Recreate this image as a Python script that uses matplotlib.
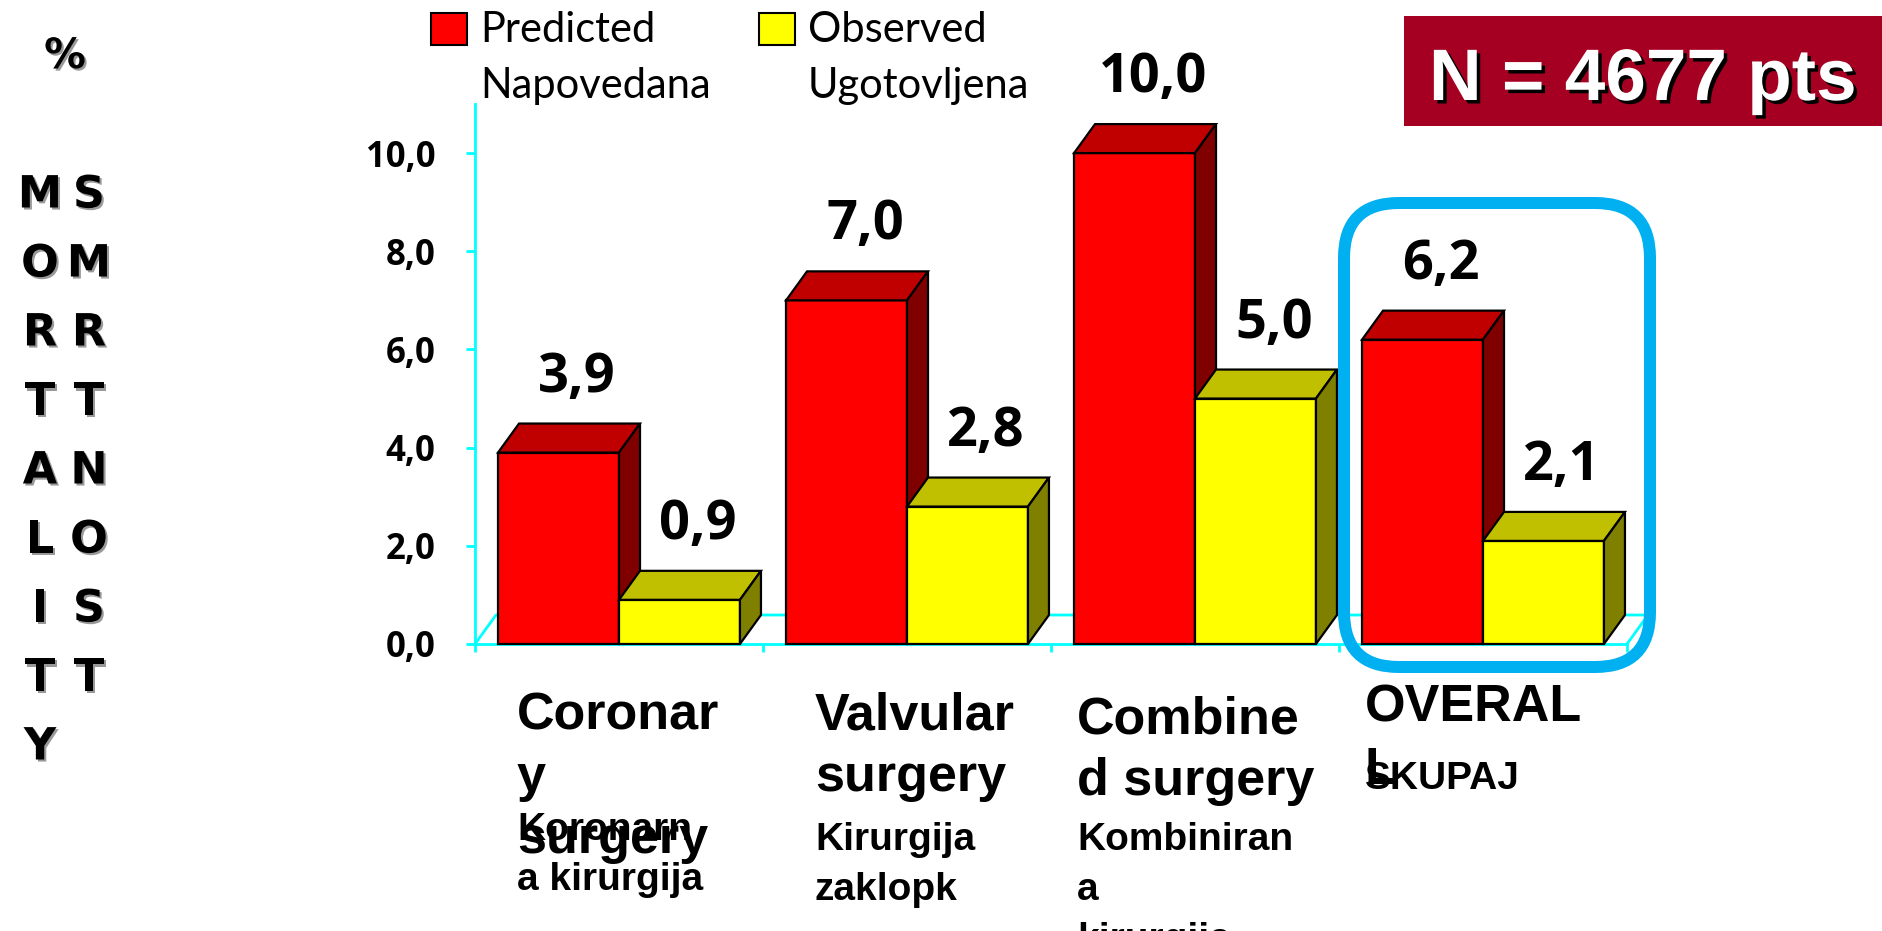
import matplotlib
matplotlib.use('Agg')
import matplotlib.pyplot as plt
import numpy as np
from matplotlib.patches import Polygon, Rectangle, FancyBboxPatch
import matplotlib.patheffects as pe

W, H, DPI = 1883, 931, 100

# data
categories = ['Coronary surgery', 'Valvular surgery', 'Combined surgery', 'OVERALL']
predicted = [3.9, 7.0, 10.0, 6.2]
observed = [0.9, 2.8, 5.0, 2.1]
yticks = [0, 2, 4, 6, 8, 10]
legend_lines = [('Predicted', 'Napovedana'), ('Observed', 'Ugotovljena')]

# category labels as they are broken in the original text boxes
cat_main = [['Coronar', 'y', 'surgery'], ['Valvular', 'surgery'],
            ['Combine', 'd surgery'], ['OVERAL', 'L']]
cat_sub = [['Koronarn', 'a kirurgija'], ['Kirurgija', 'zaklopk'],
           ['Kombiniran', 'a', 'kirurgija'], ['SKUPAJ']]
ylabel_en = 'MORTALITY'
ylabel_sl = 'SMRTNOST'

RED = ('#FF0000', '#C00000', '#800000')
YEL = ('#FFFF00', '#C0C000', '#808000')
CYAN = '#00FFFF'
NUMFONT = 'Open Sans'

def pt(px):
    return px * 72.0 / DPI

fig = plt.figure(figsize=(W / DPI, H / DPI), dpi=DPI)

# main axes: y=0 at pixel 644, 49.1 px per unit, 288 px per category
x0, x1, y0, ytop = 475, 1627, 644, 104
ax = fig.add_axes([x0 / W, 1 - y0 / H, (x1 - x0) / W, (y0 - ytop) / H])
ax.set_xlim(0, 4)
ax.set_ylim(0, 11)
ax.patch.set_alpha(0)

DX = 21 / 288.0
DY = 29 / 49.1
BW = 0.42
offsets = [0.08, 0.5]

# floor outline
ax.plot([0, DX, 4 + DX, 4], [0, DY, DY, 0], color=CYAN, lw=2, clip_on=False, zorder=1)

idx = np.arange(len(categories))
for k, (vals, cols) in enumerate([(predicted, RED), (observed, YEL)]):
    z = 3 + k
    ax.bar(idx + offsets[k], vals, width=BW, align='edge', color=cols[0],
           edgecolor='black', linewidth=1.6, zorder=z, clip_on=False)
    for i, v in enumerate(vals):
        xl = i + offsets[k]
        xr = xl + BW
        top = Polygon([(xl, v), (xr, v), (xr + DX, v + DY), (xl + DX, v + DY)],
                      closed=True, facecolor=cols[1], edgecolor='black', lw=1.6,
                      zorder=z, clip_on=False)
        side = Polygon([(xr, 0), (xr + DX, DY), (xr + DX, v + DY), (xr, v)],
                       closed=True, facecolor=cols[2], edgecolor='black', lw=1.6,
                       zorder=z, clip_on=False)
        ax.add_patch(top)
        ax.add_patch(side)
        ax.text(xl + BW / 2 + DX / 2 + 8 / 288.0, v + DY + 32 / 49.1,
                f'{v:.1f}'.replace('.', ','), ha='center', va='baseline',
                fontsize=39, fontweight='bold', family=NUMFONT, zorder=6,
                clip_on=False)

for s in ['top', 'right']:
    ax.spines[s].set_visible(False)
for s in ['left', 'bottom']:
    ax.spines[s].set_color(CYAN)
    ax.spines[s].set_linewidth(2)
    ax.spines[s].set_zorder(1)

ax.set_xticks(range(5))
ax.set_xticklabels([])
ax.set_yticks(yticks)
ax.set_yticklabels([f'{t:.1f}'.replace('.', ',') for t in yticks])
ax.tick_params(axis='x', colors=CYAN, length=6, width=2, direction='out')
ax.tick_params(axis='y', color=CYAN, length=6.5, width=2, direction='out',
               labelcolor='black', pad=22)
for lab in ax.get_yticklabels():
    lab.set_fontfamily(NUMFONT)
    lab.set_fontweight('bold')
    lab.set_fontsize(25)

# overlay in pixel coordinates for annotations
deco = fig.add_axes([0, 0, 1, 1], zorder=5)
deco.set_xlim(0, W)
deco.set_ylim(H, 0)
deco.axis('off')
deco.patch.set_alpha(0)

# highlight box around OVERALL
deco.add_patch(FancyBboxPatch((1344, 203), 306, 464,
                              boxstyle='round,pad=0,rounding_size=55',
                              fill=False, edgecolor='#00B0F0', lw=pt(12)))

# N box
deco.add_patch(Rectangle((1404, 16), 490, 110, color='#A50021', lw=0))
deco.text(1429, 100, 'N = 4677 pts', color='white', fontsize=52.5,
          fontweight='bold', family='Liberation Sans', ha='left', va='baseline',
          path_effects=[pe.withSimplePatchShadow(offset=(2.5, -2.5),
                                                 shadow_rgbFace='black', alpha=1.0)])

# legend
for (l1, l2), col, xs in zip(legend_lines, [RED[0], YEL[0]], [431, 759]):
    deco.add_patch(Rectangle((xs, 13), 36, 32, facecolor=col, edgecolor='black', lw=1.5))
    deco.text(xs + 49, 42, l1, fontsize=30, family='Lato', va='baseline', ha='left')
    deco.text(xs + 49, 98, l2, fontsize=30, family='Lato', va='baseline', ha='left')

# category labels
lx = [517, 815, 1077, 1365]
main_base = [729, 729, 733, 722]
sub_base = [840, 850, 850, 789]
for i in range(len(categories)):
    for j, line in enumerate(cat_main[i]):
        deco.text(lx[i], main_base[i] + 62 * j, line, fontsize=37.5, fontweight='bold',
                  family='Liberation Sans', ha='left', va='baseline')
    for j, line in enumerate(cat_sub[i]):
        deco.text(lx[i], sub_base[i] + 50 * j, line, fontsize=28, fontweight='bold',
                  family='Liberation Sans', ha='left', va='baseline')

# vertical axis titles
shadow = [pe.withSimplePatchShadow(offset=(1.5, -1.5), shadow_rgbFace='#555555', alpha=0.6)]
deco.text(65, 56, '%', fontsize=30, fontweight='bold', family='DejaVu Sans',
          ha='center', va='center', path_effects=shadow)
for j, ch in enumerate(ylabel_en):
    deco.text(40, 195 + 69 * j, ch, fontsize=32, fontweight='bold', family='DejaVu Sans',
              ha='center', va='center', path_effects=shadow)
for j, ch in enumerate(ylabel_sl):
    deco.text(89, 195 + 69 * j, ch, fontsize=32, fontweight='bold', family='DejaVu Sans',
              ha='center', va='center', path_effects=shadow)

fig.savefig('out.png', dpi=DPI)
